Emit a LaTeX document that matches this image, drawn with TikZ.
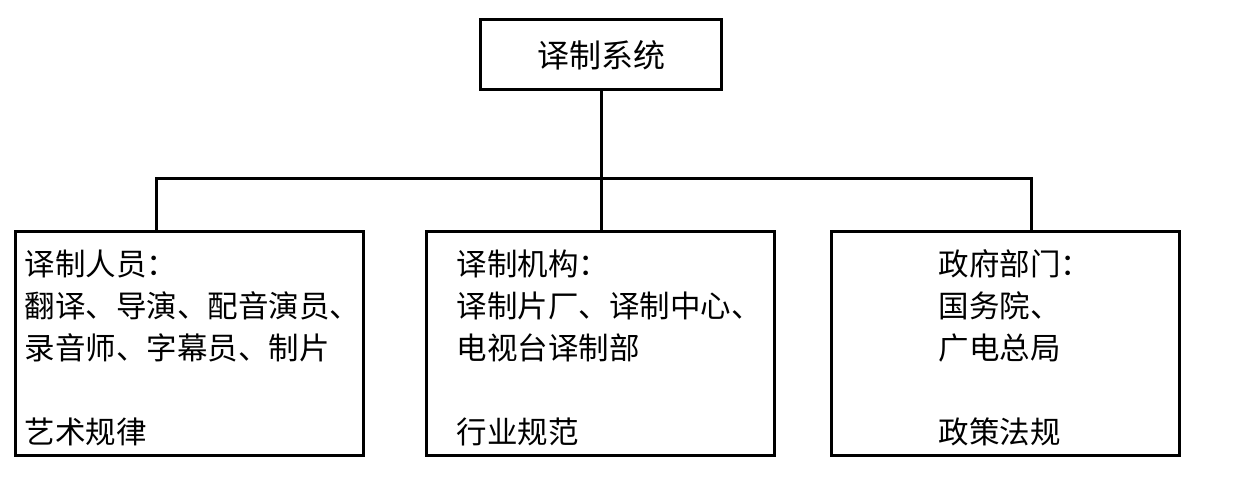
\documentclass[tikz,border=0pt]{standalone}
\usepackage{fontspec}
\newfontfamily\cjk{Noto Sans CJK SC}

\begin{document}
\begin{tikzpicture}[x=1pt,y=-1pt,line width=3pt,
  box/.style={draw,minimum width=348pt,minimum height=223pt,inner sep=0pt},
  txt/.style={anchor=north west,inner sep=0pt,align=left,
              font=\cjk\fontsize{30.5}{42}\selectfont}]
  \useasboundingbox (0,0) rectangle (1235,481);

  % ---------------- top: the system ----------------
  \node[draw,minimum width=241pt,minimum height=70pt,inner sep=0pt,
        font=\cjk\fontsize{32}{36}\selectfont] (sys) at (601,55) {译制系统};

  % ---------------- three boxes ----------------
  \node[box] (staff) at (189,343.5) {};
  \node[box] (org)   at (600,343.5) {};
  \node[box] (gov)   at (1005,343.5) {};
  \node[txt] (stafftxt) at (23,248)
    {译制人员：\\翻译、导演、配音演员、\\录音师、字幕员、制片\\[42pt]艺术规律};
  \node[txt] (orgtxt) at (455,248)
    {译制机构：\\译制片厂、译制中心、\\电视台译制部\\[42pt]行业规范};
  \node[txt] (govtxt) at (937,248)
    {政府部门：\\国务院、\\广电总局\\[42pt]政策法规};

  % ---------------- connectors ----------------
  \coordinate (busL) at (156,179);
  \coordinate (busR) at (1031,179);
  \draw (busL |- staff.north) -- (busL) -- (busR) -- (busR |- gov.north);
  \draw (sys.south) -- (sys.south |- org.north);
\end{tikzpicture}
\end{document}
